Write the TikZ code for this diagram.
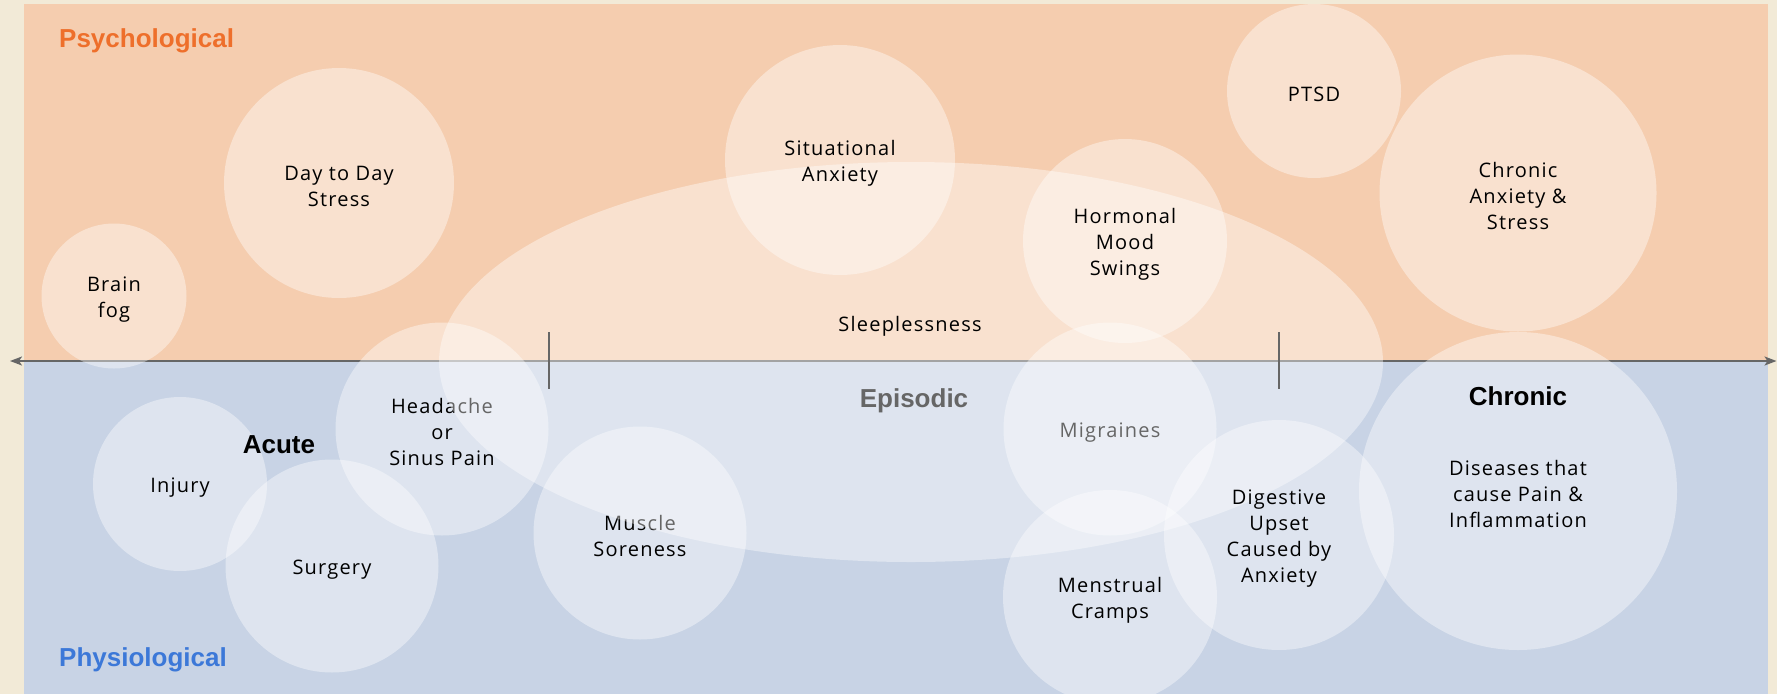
\documentclass[tikz,border=0pt]{standalone}
\usepackage{fontspec}
\setmainfont{Open Sans}
\newfontfamily\headfont{Liberation Sans}
\newfontfamily\labelfont[LetterSpace=6]{Open Sans}
\usetikzlibrary{shapes.geometric,arrows.meta}

\definecolor{cream}{HTML}{F2EAD7}
\definecolor{peach}{HTML}{F5CDAF}
\definecolor{slate}{HTML}{C8D3E5}
\definecolor{psyorange}{HTML}{EE6F2B}
\definecolor{physblue}{HTML}{3C78D8}
\definecolor{axisgray}{HTML}{666666}

\tikzset{
  bubble/.style={circle, fill=white, fill opacity=0.4,
    inner sep=0pt, minimum size=#1},
  btext/.style={inner sep=0pt, align=center, text=black,
    font=\labelfont\fontsize{20}{26}\selectfont},
  heading/.style={inner sep=0pt, font=\headfont\bfseries\fontsize{26}{30}\selectfont},
  axisline/.style={draw=axisgray, line width=2pt},
}
% a translucent circle with its caption set slightly below the centre
\newcommand\symptom[5]{%
  \node[bubble=#3] (#1) at (#2) {};
  \node[btext] (#1-txt) at ([yshift=-3.4pt]#1.center) {#4};
}

\begin{document}
\begin{tikzpicture}[x=1pt, y=-1pt]
  \useasboundingbox (0,0) rectangle (1777,694);
  % page and the two bands
  \fill[cream] (0,0) rectangle (1777,694);
  \fill[peach] (24,4) rectangle (1768,361);
  \fill[slate] (24,361) rectangle (1768,694);

  % time axis: acute -> chronic
  \coordinate (axisL) at (10,361);
  \coordinate (axisR) at (1776.5,361);
  \draw[axisline, {Stealth[length=12pt,width=9pt,inset=3pt]}-{Stealth[length=12pt,width=9pt,inset=3pt]}] (axisL) -- (axisR);

  % symptoms lying under the sleeplessness zone
  \symptom{brainfog}{114,296}{145pt}{Brain\\fog}{}
  \symptom{daystress}{339,183}{230pt}{Day to Day\\Stress}{}
  \symptom{injury}{180,484}{174pt}{Injury}{}
  \symptom{surgery}{332,566}{213pt}{Surgery}{}
  \symptom{headache}{442,429}{213pt}{Headache\\or\\Sinus Pain}{}
  \symptom{muscle}{640,533}{213pt}{Muscle\\Soreness}{}
  \symptom{migraines}{1110,429}{213pt}{Migraines}{}

  % sleeplessness zone
  \node[ellipse, fill=white, fill opacity=0.4, inner sep=0pt,
        minimum width=944pt, minimum height=400pt] (sleepzone) at (911,362) {};
  \node[btext] (sleeplabel) at (910,326.4) {Sleeplessness};

  % symptoms drawn above it
  \symptom{situational}{840,160}{230pt}{Situational\\Anxiety}{}
  \symptom{hormonal}{1125,241}{204pt}{Hormonal\\Mood\\Swings}{}
  \symptom{ptsd}{1314,91}{174pt}{PTSD}{}
  \symptom{chronicanx}{1518,193}{277pt}{Chronic\\Anxiety \&\\Stress}{}
  \symptom{menstrual}{1110,597}{214pt}{Menstrual\\Cramps}{}
  \symptom{digestive}{1279,535}{230pt}{Digestive\\Upset\\Caused by\\Anxiety}{}
  \symptom{diseases}{1518,491}{318pt}{Diseases that\\cause Pain \&\\Inflammation}{}

  % ticks separating acute, episodic and chronic
  \coordinate (tickAtop) at (549,332);
  \coordinate (tickAbot) at (549,389);
  \coordinate (tickBtop) at (1279,332);
  \coordinate (tickBbot) at (1279,389);
  \draw[axisline] (tickAtop) -- (tickAbot);
  \draw[axisline] (tickBtop) -- (tickBbot);

  % headings
  \node[heading, text=psyorange, anchor=base west] (psych) at (59,47.5) {Psychological};
  \node[heading, text=physblue, anchor=base west] (physio) at (59,666) {Physiological};
  \node[heading, anchor=base] (acute) at (279,453) {Acute};
  \node[heading, text=axisgray, anchor=base] (episodic) at (914,407) {Episodic};
  \node[heading, anchor=base] (chronic) at (1518,405) {Chronic};
\end{tikzpicture}
\end{document}
